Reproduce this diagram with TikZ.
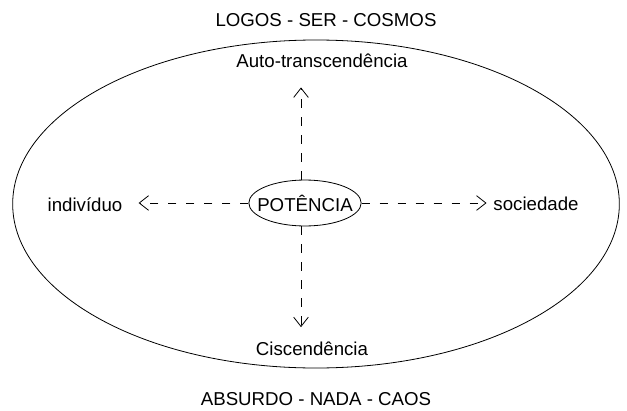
\documentclass[tikz,border=0pt]{standalone}
\usepackage{fontspec}
\setmainfont{Liberation Sans}
\usetikzlibrary{shapes.geometric,arrows.meta}

\begin{document}
\begin{tikzpicture}[x=0.75pt,y=-0.75pt,-]
    \tikzstyle{txt}=[font=\fontsize{14}{16}\selectfont,inner sep=0pt,anchor=base]
    \tikzstyle{ring}=[ellipse,draw=black,line width=0.6pt]
    \tikzstyle{link}=[line width=0.6pt,dash pattern=on 6.5pt off 7pt,-{Straight Barb[length=7pt,width=11pt]}]
    \useasboundingbox (0,0) rectangle (627,410);

    \node[ring,inner sep=0pt,minimum width=455pt,minimum height=246pt] (cosmos) at (316,204) {};
    \node[ring,font=\fontsize{14}{16}\selectfont,inner xsep=-6pt,inner ysep=6pt] (potencia) at (305,203) {POTÊNCIA};

    \foreach \name/\x/\y/\text in {logos/326/27/LOGOS - SER - COSMOS, auto/322/67/Auto-transcendência,
            indiv/85/211/indivíduo, soc/536/210/sociedade,
            cis/312/355/Ciscendência, absurdo/316/405/ABSURDO - NADA - CAOS}
        \node[txt] (\name) at (\x,\y) {\text};

        \draw[link,shorten >=15pt] ([xshift=-3pt]potencia.north) -- ([xshift=-3pt]potencia.north |- auto.south);
        \draw[link,shorten >=10.5pt] ([xshift=-3pt]potencia.south) -- ([xshift=-3pt]potencia.south |- cis.north);
        \draw[link,shorten >=12pt] (potencia.west) -- (potencia.west -| indiv.east);
        \draw[link,shorten >=5pt] (potencia.east) -- (potencia.east -| soc.west);
\end{tikzpicture}
\end{document}
